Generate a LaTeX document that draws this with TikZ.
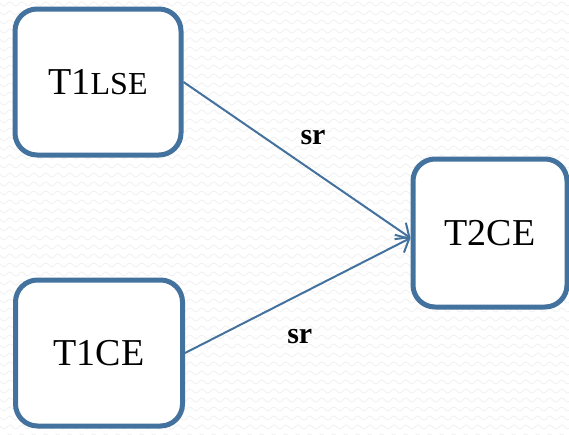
\documentclass[tikz,border=0pt]{standalone}
\usepackage{fontspec}
\setmainfont{Liberation Serif}
\usepackage{tikz}
\usetikzlibrary{arrows.meta,decorations.pathmorphing,positioning}
\definecolor{boxblue}{RGB}{68,114,158}

\begin{document}
\begin{tikzpicture}
  [%
 x=1pt,y=1pt,
 state/.style={
  rectangle,
 rounded corners=22pt,
  line width=5pt, % border
 draw=boxblue,
 fill=white,
    align=center,
 font=\fontsize{38}{40}\selectfont},
 link/.style={draw=boxblue, line width=2pt,
  -{Straight Barb[length=11pt,width=20pt,line width=2pt]}},
 lbl/.style={font=\fontsize{30}{32}\selectfont\bfseries, inner sep=0pt},
 wave/.style={draw=black!7, line width=0.6pt, decorate,
  decoration={snake, segment length=12pt, amplitude=2pt}}]
\useasboundingbox (0,0) rectangle (569,-434);
% background
\fill[white] (0,0) rectangle (569,-434);
\foreach \y in {4,13,...,436}
  \path[wave] (-6,-\y) -- (575,-\y);
\node (t1lse) [state, minimum width=166pt, minimum height=146pt] at (98,-82) {T1{\fontsize{32}{34}\selectfont LSE}};
\node (t1ce) [state, minimum width=167pt, minimum height=146pt] at (99,-353) {T1CE};
\node (t2ce) [state, minimum width=154pt, minimum height=148pt] at (490,-233) {T2CE};
\path (t1lse.east)  edge[link] node[lbl, midway, xshift=16pt, yshift=22pt] {sr} ([yshift=-5pt]t2ce.west) ;
\path (t1ce.east)  edge[link] node[lbl, midway, xshift=2pt, yshift=-41pt] {sr} ([yshift=-5pt]t2ce.west) ;
\end{tikzpicture}
\end{document}
